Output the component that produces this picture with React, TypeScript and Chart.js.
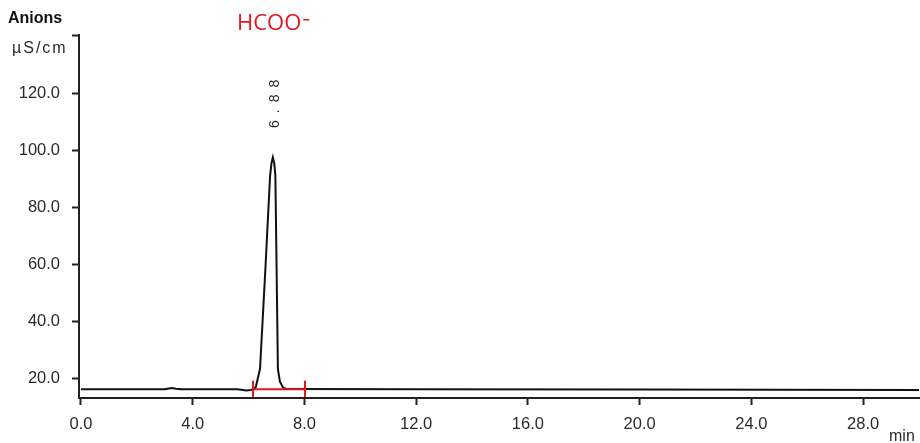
import React, { useEffect, useRef } from 'react';
import { Chart, registerables } from 'chart.js';

Chart.register(...registerables);

// Chromatogram trace (time in min, conductivity in µS/cm)
const timeMin = [0, 3.0, 3.15, 3.26, 3.4, 3.6, 5.6, 5.8, 5.92, 6.08, 6.2, 6.26, 6.41, 6.6, 6.77, 6.82, 6.87, 6.92, 6.96, 7.05, 7.12, 7.23, 7.35, 12, 20, 30];
const conductivity = [16.2, 16.2, 16.5, 16.7, 16.4, 16.2, 16.2, 16.0, 15.8, 16.0, 16.4, 17.0, 23.4, 58, 91, 95.5, 97.6, 95.5, 91, 23.4, 19, 16.9, 16.3, 16.2, 16.1, 16.0];

const xTicks = [0, 4, 8, 12, 16, 20, 24, 28];
const yTicks = [20, 40, 60, 80, 100, 120];

const peakTime = 6.88;
const peakLabel = '6.88';
const integrationStart = 6.16;
const integrationEnd = 8.02;
const integrationLevel = 16.2;
const integrationTickTop = 19.2;
const integrationTickBottom = 13.5;

const X_MIN = -0.07;
const X_MAX = 30;
const Y_MIN = 13.16;
const Y_MAX = 140.5;

const AXIS_COLOR = '#222';
const TEXT_COLOR = '#2a2a2a';
const RED = '#e3161d';
const FONT = '"Liberation Sans", Arial, sans-serif';

const overlayPlugin = {
  id: 'overlayText',
  afterDraw(chart: any) {
    const ctx = chart.ctx as CanvasRenderingContext2D;
    const xs = chart.scales.x;
    ctx.save();
    // Anions
    ctx.fillStyle = '#111';
    ctx.font = `bold 16px ${FONT}`;
    ctx.textAlign = 'left';
    ctx.textBaseline = 'middle';
    ctx.fillText('Anions', 8, 19);
    // unit
    ctx.fillStyle = TEXT_COLOR;
    ctx.font = `16px ${FONT}`;
    (ctx as any).letterSpacing = '2px';
    ctx.fillText('µS/cm', 12, 49);
    (ctx as any).letterSpacing = '0px';
    // min
    ctx.fillText('min', 889, 437);
    // HCOO-
    ctx.fillStyle = RED;
    ctx.font = `22px "Open Sans", ${FONT}`;
    ctx.textBaseline = 'alphabetic';
    ctx.fillText('HCOO', 237, 30);
    const w = ctx.measureText('HCOO').width;
    ctx.fillRect(237 + w + 2, 19, 6, 1.5);
    // peak label rotated
    const px = xs.getPixelForValue(peakTime) + 2;
    ctx.translate(px, 128);
    ctx.rotate(-Math.PI / 2);
    ctx.fillStyle = TEXT_COLOR;
    ctx.font = `14px ${FONT}`;
    ctx.textAlign = 'left';
    ctx.textBaseline = 'middle';
    (ctx as any).letterSpacing = '7px';
    ctx.fillText(peakLabel, 0, 0);
    ctx.restore();
  },
};

export default function App() {
  const ref = useRef<HTMLCanvasElement>(null);
  useEffect(() => {
    if (!ref.current) return;
    const chart = new Chart(ref.current, {
      type: 'scatter',
      data: {
        datasets: [
          {
            data: [
              { x: integrationStart, y: integrationLevel },
              { x: integrationEnd, y: integrationLevel },
            ],
            showLine: true,
            borderColor: RED,
            borderWidth: 2,
            pointRadius: 0,
            order: 0,
          },
          {
            data: [
              { x: integrationStart, y: integrationTickTop },
              { x: integrationStart, y: integrationTickBottom },
            ],
            showLine: true,
            borderColor: RED,
            borderWidth: 2,
            pointRadius: 0,
            order: 0,
          },
          {
            data: [
              { x: integrationEnd, y: integrationTickTop },
              { x: integrationEnd, y: integrationTickBottom },
            ],
            showLine: true,
            borderColor: RED,
            borderWidth: 2,
            pointRadius: 0,
            order: 0,
          },
          {
            data: timeMin.map((t, i) => ({ x: t, y: conductivity[i] })),
            showLine: true,
            borderColor: '#111',
            borderWidth: 2,
            pointRadius: 0,
            tension: 0,
            order: 1,
          },
        ],
      },
      options: {
        animation: false,
        responsive: false,
        devicePixelRatio: 1,
        layout: { padding: { left: 0, top: 35, right: 1, bottom: 0 } },
        plugins: { legend: { display: false }, tooltip: { enabled: false } },
        scales: {
          x: {
            type: 'linear',
            min: X_MIN,
            max: X_MAX,
            afterBuildTicks: (s: any) => {
              s.ticks = xTicks.map((v) => ({ value: v }));
            },
            afterFit: (s: any) => {
              s.height = 45;
            },
            ticks: {
              callback: (v: any) => Number(v).toFixed(1),
              font: { family: FONT, size: 16.5 },
              color: TEXT_COLOR,
              padding: 10,
              maxRotation: 0,
              autoSkip: false,
            },
            grid: {
              drawOnChartArea: false,
              drawTicks: true,
              tickLength: 7,
              tickWidth: 2,
              tickColor: AXIS_COLOR,
            },
            border: { display: true, color: AXIS_COLOR, width: 2 },
          },
          y: {
            type: 'linear',
            min: Y_MIN,
            max: Y_MAX,
            afterBuildTicks: (s: any) => {
              s.ticks = [...yTicks, Y_MAX].map((v) => ({ value: v }));
            },
            afterFit: (s: any) => {
              s.width = 79;
            },
            ticks: {
              callback: (v: any) => (v === Y_MAX ? '' : Number(v).toFixed(1)),
              font: { family: FONT, size: 16.5 },
              color: TEXT_COLOR,
              padding: 12,
              autoSkip: false,
            },
            grid: {
              drawOnChartArea: false,
              drawTicks: true,
              tickLength: 7,
              tickWidth: 2,
              tickColor: AXIS_COLOR,
            },
            border: { display: true, color: AXIS_COLOR, width: 2 },
          },
        },
      },
      plugins: [overlayPlugin],
    });
    return () => chart.destroy();
  }, []);
  return (
    <div style={{ position: 'fixed', left: 0, top: 0, width: 920, height: 443, background: '#fff' }}>
      <canvas ref={ref} width={920} height={443} style={{ display: 'block' }} />
    </div>
  );
}
